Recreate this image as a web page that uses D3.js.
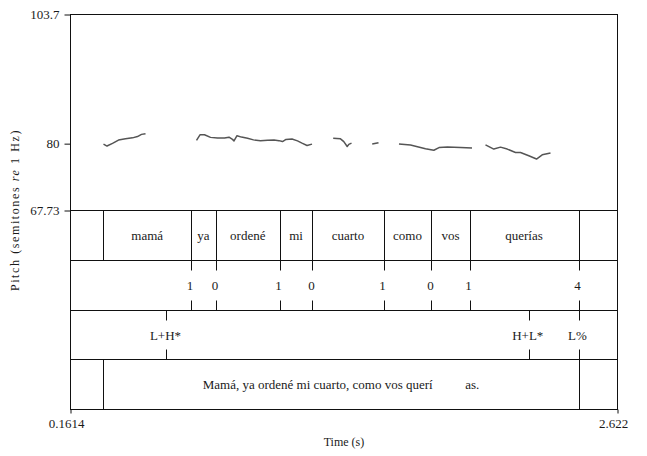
<!DOCTYPE html>
<html>
<head>
<meta charset="utf-8">
<script src="https://cdn.jsdelivr.net/npm/d3@7"></script>
<style>
  html, body { margin: 0; padding: 0; background: #fff; }
  svg { display: block; }
  text { font-family: "Liberation Serif", "Times New Roman", serif; fill: #1a1a1a; }
</style>
</head>
<body>
<svg id="chart" width="647" height="456"></svg>
<script>
// ---------- DATA ----------
const timeDomain = [0.1614, 2.622];
const pitchDomain = [67.73, 103.7];
const pitchTicks = [67.73, 80, 103.7];
const timeTickLabels = ["0.1614", "2.622"];

// pitch contour segments: [time (s), semitones re 1 Hz]
const segment1 = [[0.3098,79.91],[0.3256,79.56],[0.3503,80.05],[0.3773,80.66],[0.4088,80.88],[0.4403,81.06],[0.4628,81.30],[0.4808,81.70],[0.4988,81.83]];
const segment2 = [[0.7282,80.60],[0.7439,81.61],[0.7642,81.64],[0.7912,81.15],[0.8227,81.02],[0.8542,81.02],[0.8744,81.19],[0.8901,80.78],[0.8969,80.51],[0.9104,81.46],[0.9306,81.20],[0.9576,81.00],[0.9846,80.69],[1.0161,80.51],[1.0476,80.64],[1.0768,80.66],[1.0993,80.55],[1.1151,80.38],[1.1308,80.78],[1.1578,80.84],[1.1825,80.51],[1.2028,80.09],[1.2253,79.65],[1.2478,79.91]];
const segment3 = [[1.3431,80.97],[1.3760,80.88],[1.3908,80.38],[1.4061,79.47],[1.4133,79.87],[1.4255,80.09]];
const segment4 = [[1.5186,79.93],[1.5469,80.18]];
const segment5 = [[1.6391,79.93],[1.6909,79.74],[1.7223,79.42],[1.7583,79.05],[1.7957,78.78],[1.8191,79.27],[1.8573,79.38],[1.9158,79.29],[1.9675,79.18]];
const segment6 = [[2.0282,79.78],[2.0656,79.00],[2.0957,79.36],[2.1259,79.00],[2.1632,78.37],[2.1857,78.37],[2.2230,77.77],[2.2577,77.17],[2.2833,77.95],[2.3206,78.27]];
const pitchSegments = [segment1, segment2, segment3, segment4, segment5, segment6];

// tier 1: words (interval tier)
const wordBoundaries = [0.3098, 0.7035, 0.8159, 1.1016, 1.2500, 1.5694, 1.7853, 1.9563, 2.4466];
const wordLabels = ["", "mamá", "ya", "ordené", "mi", "cuarto", "como", "vos", "querías", ""];

// tier 2: break indices (point tier)
const breakTimes = [0.7035, 0.8159, 1.1016, 1.2500, 1.5694, 1.7853, 1.9563, 2.4466];
const breakLabels = ["1", "0", "1", "0", "1", "0", "1", "4"];

// tier 3: tones (point tier)
const toneTimes = [0.5932, 2.2230, 2.4466];
const toneLabels = ["L+H*", "H+L*", "L%"];

// tier 4: sentence (interval tier)
const sentenceBoundaries = [0.3098, 2.4466];
const sentenceLabels = ["", "Mamá, ya ordené mi cuarto, como vos querí          as.", ""];

// ---------- LAYOUT ----------
const leftX = 70.5, rightX = 617.5;
const topY = 14.5;
const tierY = [210.5, 260.5, 310.5, 359.5, 409.5];

const svg = d3.select("#chart");
const x = d3.scaleLinear().domain(timeDomain).range([leftX, rightX]);
const y = d3.scaleLinear().domain(pitchDomain).range([tierY[0], topY]);

const ink = "#111";

// outer frame
svg.append("rect").attr("x", leftX).attr("y", topY)
  .attr("width", rightX - leftX).attr("height", tierY[4] - topY)
  .attr("fill", "none").attr("stroke", ink).attr("stroke-width", 1);

// tier separators
svg.selectAll("line.tier").data(tierY.slice(0, 4)).enter().append("line")
  .attr("x1", leftX).attr("x2", rightX).attr("y1", d => d).attr("y2", d => d)
  .attr("stroke", ink).attr("stroke-width", 1);

// y axis ticks
const yAxis = d3.axisLeft(y).tickValues(pitchTicks).tickSize(6).tickPadding(5)
  .tickFormat(d => String(d));
const yg = svg.append("g").attr("transform", `translate(${leftX},0)`).call(yAxis);
yg.select(".domain").remove();
yg.selectAll("line").attr("stroke", ink);
yg.selectAll("text").style("font-family", "Liberation Serif").style("font-size", "13px").attr("fill", "#1a1a1a");

// x axis end ticks
const xAxis = d3.axisBottom(x).tickValues(timeDomain).tickSize(4).tickFormat(() => "");
const xg = svg.append("g").attr("transform", `translate(0,${tierY[4]})`).call(xAxis);
xg.select(".domain").remove();
xg.selectAll("line").attr("stroke", ink);
svg.selectAll("text.xlab").data(timeDomain).enter().append("text")
  .attr("x", d => x(d) - 4).attr("y", 428).attr("text-anchor", "middle")
  .style("font-size", "13px").text((d, i) => timeTickLabels[i]);

// axis titles
svg.append("text").attr("x", (leftX + rightX) / 2).attr("y", 446)
  .attr("text-anchor", "middle").style("font-size", "12px").text("Time (s)");
const yt = svg.append("text")
  .attr("transform", `translate(19,${(topY + tierY[4]) / 2 - 2}) rotate(-90)`)
  .attr("text-anchor", "middle").style("font-size", "12px").style("letter-spacing", "1.6px");
yt.append("tspan").text("Pitch (semitones ");
yt.append("tspan").style("font-style", "italic").text("re");
yt.append("tspan").text(" 1 Hz)");

// pitch contour
const line = d3.line().x(d => x(d[0])).y(d => y(d[1]));
svg.selectAll("path.pitch").data(pitchSegments).enter().append("path")
  .attr("d", line).attr("fill", "none").attr("stroke", "#555")
  .attr("stroke-width", 1.5).attr("stroke-linejoin", "round");

// interval tier helper
function intervalTier(bounds, labels, y0, y1) {
  svg.selectAll(null).data(bounds).enter().append("line")
    .attr("x1", d => Math.round(x(d)) + 0.5).attr("x2", d => Math.round(x(d)) + 0.5)
    .attr("y1", y0).attr("y2", y1).attr("stroke", ink);
  const edges = [timeDomain[0], ...bounds, timeDomain[1]];
  svg.selectAll(null).data(labels).enter().append("text")
    .attr("x", (d, i) => (x(edges[i]) + x(edges[i + 1])) / 2)
    .attr("y", (y0 + y1) / 2).attr("dy", "0.35em").attr("text-anchor", "middle")
    .style("font-size", "13px").style("white-space", "pre")
    .text(d => d);
}
// point tier helper
function pointTier(times, labels, y0, y1) {
  const g = svg.selectAll(null).data(times).enter().append("g");
  g.append("line").attr("x1", d => Math.round(x(d)) + 0.5).attr("x2", d => Math.round(x(d)) + 0.5)
    .attr("y1", y0).attr("y2", y0 + 10).attr("stroke", ink);
  g.append("line").attr("x1", d => Math.round(x(d)) + 0.5).attr("x2", d => Math.round(x(d)) + 0.5)
    .attr("y1", y1 - 10).attr("y2", y1).attr("stroke", ink);
  g.append("text").attr("x", d => x(d) - 1).attr("y", (y0 + y1) / 2).attr("dy", "0.35em")
    .attr("text-anchor", "middle").style("font-size", "13px").text((d, i) => labels[i]);
}

intervalTier(wordBoundaries, wordLabels, tierY[0], tierY[1]);
pointTier(breakTimes, breakLabels, tierY[1], tierY[2]);
pointTier(toneTimes, toneLabels, tierY[2], tierY[3]);
intervalTier(sentenceBoundaries, sentenceLabels, tierY[3], tierY[4]);
</script>
</body>
</html>
